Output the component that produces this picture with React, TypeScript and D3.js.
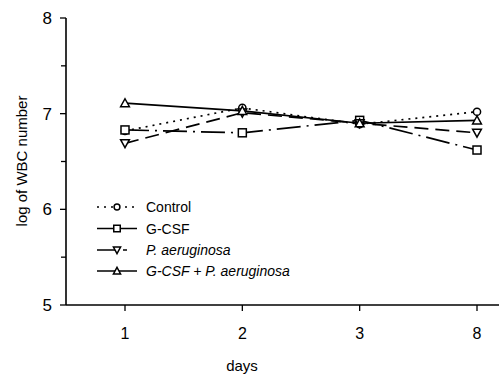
import { useEffect, useRef } from "react";
import * as d3 from "d3";

const days = ["1", "2", "3", "8"];
const seriesNames = ["Control", "G-CSF", "P. aeruginosa", "G-CSF + P. aeruginosa"];
const controlValues = [6.82, 7.06, 6.89, 7.02];
const gcsfValues = [6.83, 6.8, 6.93, 6.62];
const paeruValues = [6.69, 7.01, 6.9, 6.8];
const comboValues = [7.11, 7.03, 6.9, 6.93];
const yTicks = [5, 6, 7, 8];
const yMinorTicks = [5.5, 6.5, 7.5];

const styles = [
  { dash: "2,5", marker: "circle" },
  { dash: "24,6,2,6", marker: "square" },
  { dash: "14,7", marker: "down" },
  { dash: "", marker: "up" },
];

function App() {
  const ref = useRef<SVGSVGElement>(null);

  useEffect(() => {
    const svg = d3.select(ref.current);
    svg.selectAll("*").remove();
    const font = "Liberation Sans, Arial, sans-serif";

    const x = d3.scalePoint<string>().domain(days).range([125, 477]);
    const y = d3.scaleLinear().domain([5, 8]).range([305, 18]);

    const allValues = [controlValues, gcsfValues, paeruValues, comboValues];

    // axes
    svg.append("line").attr("x1", 66).attr("x2", 66).attr("y1", 18).attr("y2", 305)
      .attr("stroke", "#000").attr("stroke-width", 1.6);
    svg.append("line").attr("x1", 66).attr("x2", 499).attr("y1", 305).attr("y2", 305)
      .attr("stroke", "#000").attr("stroke-width", 1.6);

    yTicks.forEach((t) => {
      svg.append("line").attr("x1", 60).attr("x2", 66).attr("y1", y(t)).attr("y2", y(t))
        .attr("stroke", "#000").attr("stroke-width", 1.3);
      svg.append("text").attr("x", 52).attr("y", y(t)).attr("dy", "0.36em")
        .attr("text-anchor", "end").attr("font-family", font).attr("font-size", 17)
        .text(t);
    });
    yMinorTicks.forEach((t) => {
      svg.append("line").attr("x1", 61).attr("x2", 66).attr("y1", y(t)).attr("y2", y(t))
        .attr("stroke", "#000").attr("stroke-width", 1.3);
    });
    days.forEach((d) => {
      svg.append("line").attr("x1", x(d)!).attr("x2", x(d)!).attr("y1", 305).attr("y2", 311)
        .attr("stroke", "#000").attr("stroke-width", 1.3);
      svg.append("text").attr("x", x(d)!).attr("y", 333).attr("dy", "0.36em")
        .attr("text-anchor", "middle").attr("font-family", font).attr("font-size", 16)
        .text(d);
    });

    svg.append("text").attr("x", 242).attr("y", 366).attr("dy", "0.36em")
      .attr("text-anchor", "middle").attr("font-family", font).attr("font-size", 15)
      .text("days");
    svg.append("text")
      .attr("transform", "translate(22,161) rotate(-90)")
      .attr("dy", "0.36em")
      .attr("text-anchor", "middle").attr("font-family", font).attr("font-size", 15)
      .text("log of WBC number");

    const drawMarker = (g: any, kind: string, cx: number, cy: number, s: number) => {
      const common = (sel: any) => sel.attr("fill", "#fff").attr("stroke", "#000").attr("stroke-width", 1.5);
      if (kind === "circle") {
        common(g.append("circle").attr("cx", cx).attr("cy", cy).attr("r", s * 0.45));
      } else if (kind === "square") {
        common(g.append("rect").attr("x", cx - s / 2).attr("y", cy - s / 2).attr("width", s).attr("height", s));
      } else if (kind === "up") {
        common(g.append("path").attr("d", `M${cx},${cy - s * 0.55}L${cx + s * 0.55},${cy + s * 0.45}L${cx - s * 0.55},${cy + s * 0.45}Z`));
      } else {
        common(g.append("path").attr("d", `M${cx},${cy + s * 0.55}L${cx + s * 0.55},${cy - s * 0.45}L${cx - s * 0.55},${cy - s * 0.45}Z`));
      }
    };

    const line = d3.line<number>().x((_, i) => x(days[i])!).y((v) => y(v));

    allValues.forEach((vals, si) => {
      svg.append("path").attr("d", line(vals)!).attr("fill", "none")
        .attr("stroke", "#000").attr("stroke-width", 1.7)
        .attr("stroke-dasharray", styles[si].dash);
    });
    allValues.forEach((vals, si) => {
      const g = svg.append("g");
      vals.forEach((v, i) => drawMarker(g, styles[si].marker, x(days[i])!, y(v), 8));
    });

    // legend
    const legendRows = [207, 228.5, 250, 271];
    seriesNames.forEach((name, si) => {
      const ly = legendRows[si];
      const g = svg.append("g");
      g.append("line").attr("x1", 97).attr("x2", 137).attr("y1", ly).attr("y2", ly)
        .attr("stroke", "#000").attr("stroke-width", 1.7)
        .attr("stroke-dasharray", si === 0 ? "2,5" : si === 2 ? "20,6,4,20" : "");
      drawMarker(g, styles[si].marker, 117, ly, 6.5);
      const t = g.append("text").attr("x", 146).attr("y", ly).attr("dy", "0.36em")
        .attr("font-family", font).attr("font-size", 14);
      if (si >= 2) {
        t.append("tspan").attr("font-style", "italic").text(name);
      } else {
        t.text(name);
      }
    });
  }, []);

  return (
    <svg ref={ref} width={499} height={375}
      style={{ position: "absolute", left: 0, top: 0, background: "#fff" }} />
  );
}

export default App;
